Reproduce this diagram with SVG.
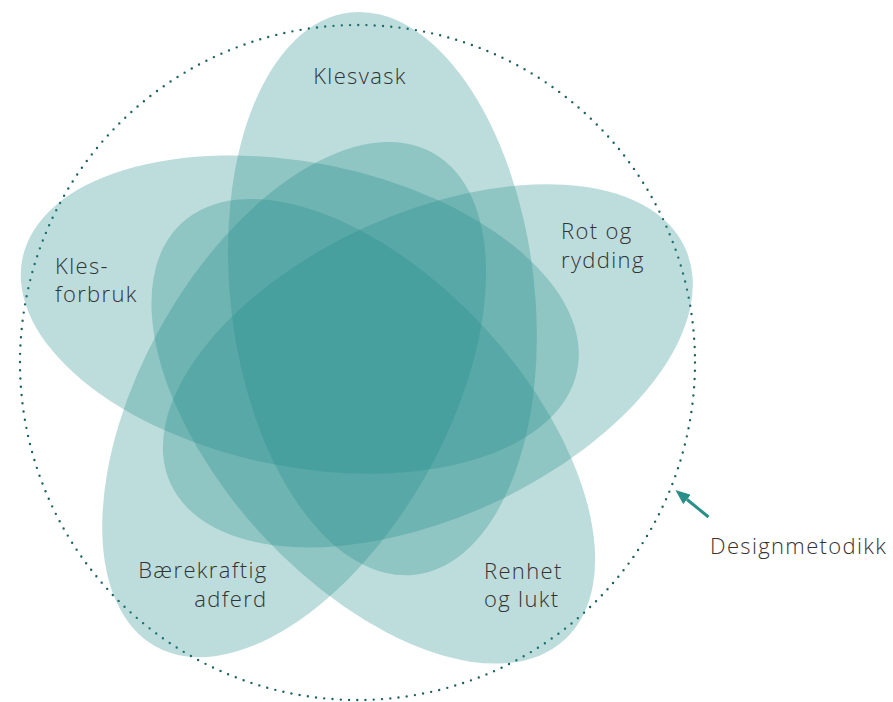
<svg xmlns="http://www.w3.org/2000/svg" width="893" height="702" viewBox="0 0 893 702">
<defs>
<style>
.petal{fill:#268e8c;fill-opacity:0.3;}
.lbl{font-family:"Open Sans",Inter,"Liberation Sans",sans-serif;font-weight:300;font-size:22px;letter-spacing:1.35px;fill:#333333;}
.ring{fill:none;stroke:#1c6263;stroke-width:2.4;stroke-linecap:round;stroke-dasharray:0 8.284;}
.arrow{stroke:#2a8f88;stroke-width:3;fill:none;}
</style>
<marker id="head" viewBox="0 0 15 12" refX="0" refY="6" markerWidth="15" markerHeight="12" markerUnits="userSpaceOnUse" orient="auto">
<path d="M0,0 L15,6 L0,12 Z" fill="#2a8f88"/>
</marker>
</defs>
<rect width="893" height="702" fill="#ffffff"/>
<g id="designmetodikk">
<circle class="ring" cx="357.5" cy="362.5" r="337.5"/>
<text class="lbl" x="710" y="553.5">Designmetodikk</text>
</g>
<g id="rot-og-rydding">
<ellipse class="petal" cx="0" cy="0" rx="283" ry="152" transform="translate(355.5 361) rotate(3.8) translate(72.5 0) rotate(151.6)"/>
</g>
<g id="renhet-og-lukt">
<ellipse class="petal" cx="0" cy="0" rx="283" ry="152" transform="translate(355.5 361) rotate(75.8) translate(72.5 0) rotate(151.6)"/>
</g>
<g id="baerekraftig-adferd">
<ellipse class="petal" cx="0" cy="0" rx="283" ry="152" transform="translate(355.5 361) rotate(147.8) translate(72.5 0) rotate(151.6)"/>
</g>
<g id="klesforbruk">
<ellipse class="petal" cx="0" cy="0" rx="283" ry="152" transform="translate(355.5 361) rotate(219.8) translate(72.5 0) rotate(151.6)"/>
</g>
<g id="klesvask">
<ellipse class="petal" cx="0" cy="0" rx="283" ry="152" transform="translate(355.5 361) rotate(291.8) translate(72.5 0) rotate(151.6)"/>
</g>
<g id="labels">
<text class="lbl" x="360" y="83.5" text-anchor="middle">Klesvask</text>
<text class="lbl" x="55" y="273.5">Kles-</text>
<text class="lbl" x="55" y="301.5">forbruk</text>
<text class="lbl" x="561" y="239">Rot og</text>
<text class="lbl" x="561" y="267.5">rydding</text>
<text class="lbl" x="267.5" y="578" text-anchor="end">Bærekraftig</text>
<text class="lbl" x="267.5" y="606.5" text-anchor="end">adferd</text>
<text class="lbl" x="484" y="578.5">Renhet</text>
<text class="lbl" x="484" y="606.5">og lukt</text>
</g>
<g id="connectors">
<line class="arrow" x1="708.5" y1="517" x2="687" y2="499.5" marker-end="url(#head)"/>
</g>
</svg>
